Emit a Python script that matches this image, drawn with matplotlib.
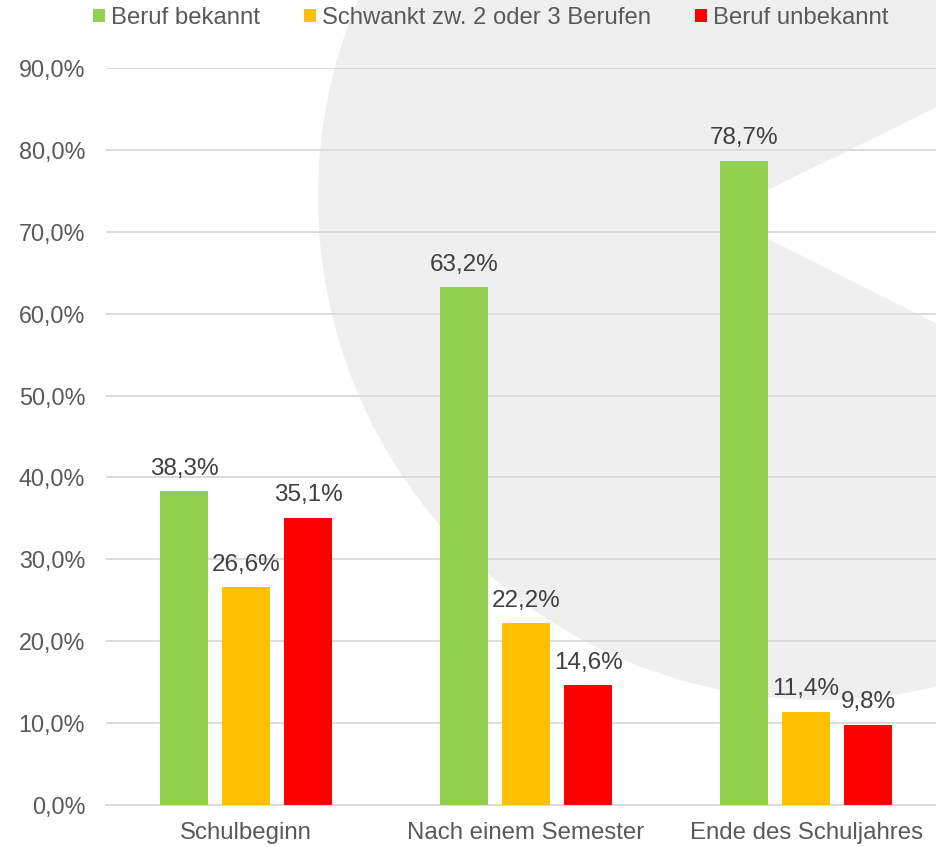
import matplotlib.pyplot as plt
import numpy as np
from matplotlib.patches import Ellipse, Polygon, Patch

plt.rcParams['font.family'] = ['Liberation Sans', 'DejaVu Sans']

categories = ['Schulbeginn', 'Nach einem Semester', 'Ende des Schuljahres']
series_names = ['Beruf bekannt', 'Schwankt zw. 2 oder 3 Berufen', 'Beruf unbekannt']
bekannt = [38.3, 63.2, 78.7]
schwankt = [26.6, 22.2, 11.4]
unbekannt = [35.1, 14.6, 9.8]
colors = ['#92d050', '#ffc000', '#ff0000']
yticks = [0, 10, 20, 30, 40, 50, 60, 70, 80, 90]

W, H = 936, 847
fig = plt.figure(figsize=(W / 100, H / 100), dpi=100)


def px(x, y):
    # pixel position (from top-left) -> figure fraction
    return (x / W, 1 - y / H)


# light grey watermark in the background
r = 503
circ = Ellipse(px(821, 197), 2 * r / W, 2 * r / H, transform=fig.transFigure,
               facecolor='#efefef', edgecolor='none', zorder=0)
fig.patches.append(circ)
mouth = Polygon([px(719, 214), px(1100, 27), px(1100, 406)], closed=True,
                transform=fig.transFigure, facecolor='white', edgecolor='none', zorder=0.5)
fig.patches.append(mouth)

ax = fig.add_axes([106 / W, 1 - 805 / H, (W - 106) / W, (805 - 68) / H])
ax.set_facecolor('none')
ax.set_zorder(1)

x = np.arange(len(categories))
width = 48 / 280
step = 62 / 280
series = [bekannt, schwankt, unbekannt]
for i, (vals, name, c) in enumerate(zip(series, series_names, colors)):
    pos = x + (i - 1) * step
    ax.bar(pos, vals, width=width, color=c, label=name, zorder=3)
    for p, v in zip(pos, vals):
        ax.annotate(('%.1f%%' % v).replace('.', ','), (p, v), xytext=(0, 11.8),
                    textcoords='offset points', ha='center', va='baseline',
                    fontsize=17.5, color='#404040', zorder=4)

ax.set_xlim(-0.5, 2.5 - 10 / 280)
ax.set_ylim(0, 90)
ax.set_yticks(yticks)
ax.set_yticklabels([('%.1f%%' % t).replace('.', ',') for t in yticks])
ax.set_xticks(x)
ax.set_xticklabels(categories)
ax.tick_params(axis='both', length=0, labelcolor='#595959')
ax.tick_params(axis='y', pad=15, labelsize=16.8)
ax.tick_params(axis='x', pad=12, labelsize=17.3)
ax.grid(axis='y', color='#d9d9d9', linewidth=1.3, zorder=0)
for s in ['top', 'right', 'left']:
    ax.spines[s].set_visible(False)
ax.spines['bottom'].set_color('#d9d9d9')
ax.spines['bottom'].set_linewidth(1.3)

handles = [Patch(facecolor=c, edgecolor='none') for c in colors]
fig.legend(handles, series_names, loc='center', bbox_to_anchor=(491 / W, 1 - 18 / H),
           ncol=3, frameon=False, fontsize=17.2, labelcolor='#595959',
           handlelength=0.5, handleheight=0.5, handletextpad=0.25, columnspacing=1.85)

fig.savefig('out.png', dpi=100)
